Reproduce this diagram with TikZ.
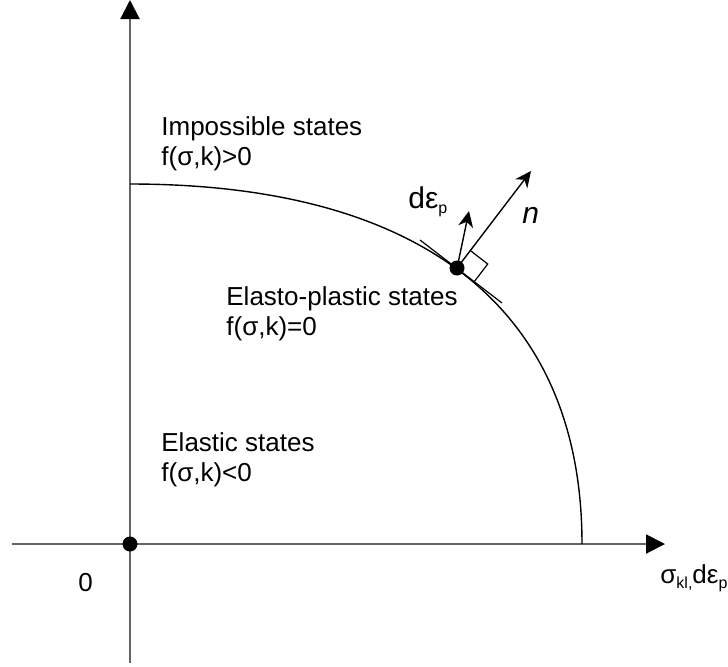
\documentclass[tikz,border=0pt]{standalone}
\usepackage{fontspec}
\setmainfont{Liberation Sans}
\usepackage{xcolor}
\usepackage{tikz}
\usetikzlibrary{arrows.meta, calc}
\definecolor{axisgray}{RGB}{100,100,100}
\newcommand{\lowsub}[1]{\raisebox{-2.5pt}{\fontsize{8pt}{8pt}\selectfont #1}}

\begin{document}
\begin{tikzpicture}[
  x=0.5pt, y=-0.5pt,
  axis/.style      = {draw=axisgray, line width=1pt, -{Triangle[length=9.5pt, width=9.5pt, color=black]}},
  yieldcurve/.style = {draw=black, line width=0.7pt},
  vec/.style       = {draw=black, line width=0.7pt, -{Stealth[length=8pt, width=7.5pt, inset=2.5pt]}},
  thinline/.style  = {draw=black, line width=0.6pt},
  dot/.style       = {circle, fill=black, inner sep=0pt, minimum size=7.5pt},
  lbl/.style       = {anchor=base west, inner sep=0pt, font=\fontsize{13pt}{15pt}\selectfont},
]
\useasboundingbox (0,0) rectangle (728,666);

%% --- Axes ---
\coordinate (ybot)   at (130,663);
\coordinate (ytop)   at (130,0);
\coordinate (xleft)  at (12,544);
\coordinate (xright) at (665,544);
\draw[axis] (ybot) -- (ytop);
\draw[axis] (xleft) -- (xright);

%% --- Yield surface ---
\draw[yieldcurve] (130,184) .. controls (424,184) and (582,310) .. (582,544);

%% --- Normal, increment and tangent at the stress point ---
\coordinate (p)     at (457,268);
\coordinate (ntip)  at (531,171);
\coordinate (detip) at (469,211);
\coordinate (tana)  at (420,240);
\coordinate (tanb)  at (502,303);
\draw[thinline] (tana) -- (tanb);
\coordinate (sqa) at ($(p)!11pt!(ntip)$);
\coordinate (sqc) at ($(p)!11pt!(tanb)$);
\draw[thinline] (sqa) -- ($(sqa)+(sqc)-(p)$) -- (sqc);
\draw[vec] (p) -- (ntip);
\draw[vec] (p) -- (detip);

%% --- Points ---
\node[dot] (odot) at (130,544) {};
\node[dot] (pdot) at (p) {};

%% --- Labels ---
\node[lbl] (imp)  at (161,135) {Impossible states};
\node[lbl] (impf) at (161,165) {f(σ,k)>0};
\node[lbl] (ep)   at (226,305) {Elasto-plastic states};
\node[lbl] (epf)  at (226,335) {f(σ,k)=0};
\node[lbl] (el)   at (161,451) {Elastic states};
\node[lbl] (elf)  at (161,481) {f(σ,k)<0};
\node[lbl] (zero) at (78,591) {0};
\node[lbl] (xlab) at (660,583) {σ\lowsub{kl,}dε\lowsub{p}};
\node[lbl, font=\fontsize{15pt}{17pt}\selectfont] (delab) at (408,208) {dε\lowsub{p}};
\node[lbl, font=\fontsize{15pt}{17pt}\selectfont\itshape] (nlab) at (522,223) {n};

\end{tikzpicture}
\end{document}
